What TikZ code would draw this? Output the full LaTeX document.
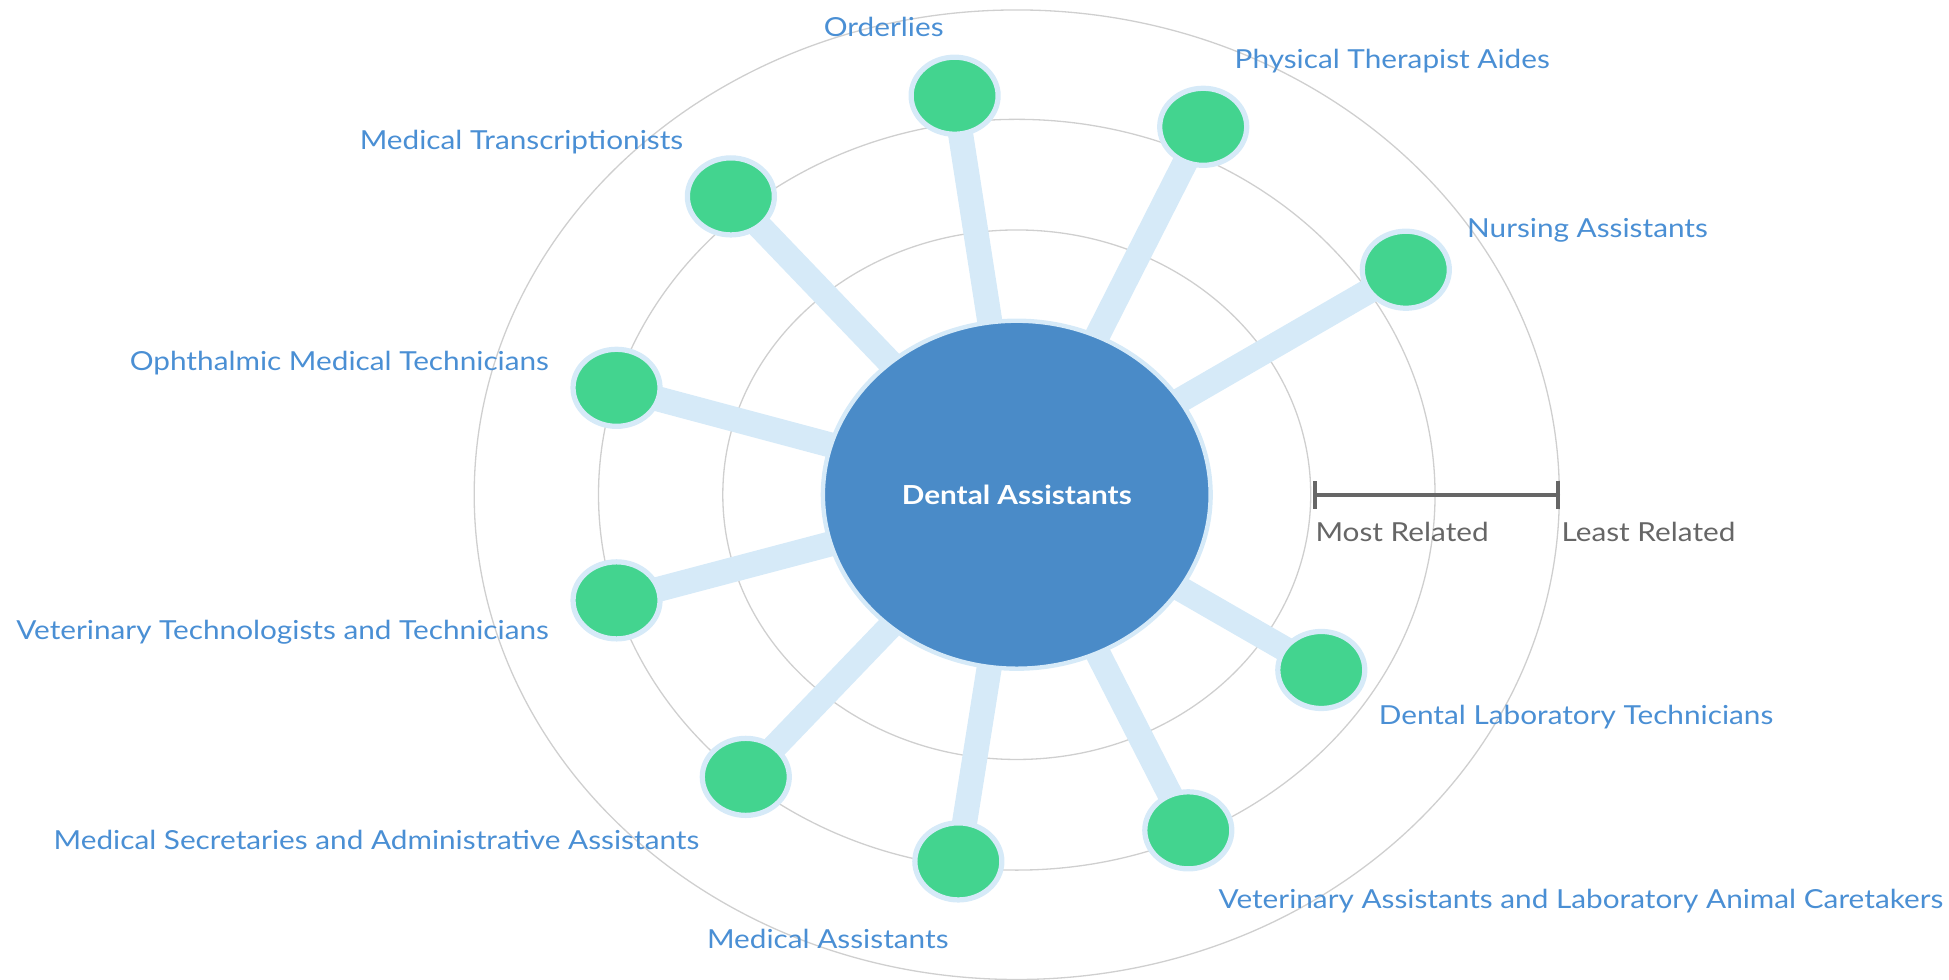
\documentclass[tikz,border=0pt]{standalone}
\usepackage{fontspec}
\setmainfont{Lato}[FakeStretch=1.135]
\usepackage{tikz}
\usetikzlibrary{shapes}
\usetikzlibrary{arrows.meta}
\usetikzlibrary{backgrounds}
\definecolor{ringgray}{HTML}{CFCFCF}
\definecolor{spokeblue}{HTML}{D6EAF8}
\definecolor{jobgreen}{HTML}{43D48F}
\definecolor{hubblue}{HTML}{4A8BC8}
\definecolor{labelblue}{HTML}{4A8FD4}
\definecolor{bargray}{HTML}{666666}
\tikzset{
	hub node/.style={ellipse,fill=hubblue,draw=spokeblue,line width=2pt,
		minimum width=6.24cm,minimum height=5.6cm,text=white,font=\fontsize{12}{14}\selectfont\bfseries},
	job node/.style={ellipse,fill=jobgreen,draw=spokeblue,line width=2.4pt,
		minimum width=1.4cm,minimum height=1.24cm},
	job label/.style={text=labelblue,inner sep=0pt,yshift=-0.04cm,font=\fontsize{12}{14}\selectfont},
	spoke/.style={spokeblue,line width=11.5pt},
	ring/.style={ringgray,line width=0.6pt},
	scale text/.style={text=bargray,inner sep=0pt,font=\fontsize{12}{14}\selectfont}
}

\begin{document}
\begin{tikzpicture}[x=0.02cm,y=-0.02cm]
	\useasboundingbox (0,0) rectangle (1568,788);
	% hub and related jobs
	\node [hub node] (hub) at (818,398) {Dental Assistants};
	\node [job node] (1) at (768,77) {};
	\node [job node] (2) at (968,102) {};
	\node [job node] (3) at (1131,217) {};
	\node [job node] (4) at (1063,539) {};
	\node [job node] (5) at (956,668) {};
	\node [job node] (6) at (771,693) {};
	\node [job node] (7) at (600,625) {};
	\node [job node] (8) at (496,483) {};
	\node [job node] (9) at (496,312) {};
	\node [job node] (10) at (588,158) {};
	% labels
	\node [job label] (l1) at (711,20) {Orderlies};
	\node [job label,anchor=west] (l2) at (993,47) {Physical Therapist Aides};
	\node [job label,anchor=west] (l3) at (1180,183) {Nursing Assistants};
	\node [job label,anchor=west] (l4) at (1109,575) {Dental Laboratory Technicians};
	\node [job label,anchor=west] (l5) at (980,723) {Veterinary Assistants and Laboratory Animal Caretakers};
	\node [job label] (l6) at (666,753) {Medical Assistants};
	\node [job label,anchor=east] (l7) at (563,674) {Medical Secretaries and Administrative Assistants};
	\node [job label,anchor=east] (l8) at (442,507) {Veterinary Technologists and Technicians};
	\node [job label,anchor=east] (l9) at (442,290) {Ophthalmic Medical Technicians};
	\node [job label,anchor=east] (l10) at (550,112) {Medical Transcriptionists};
	% scale
	\coordinate (most) at (1056,398);
	\coordinate (least) at (1255,398);
	\draw [bargray,line width=1.8pt,{Bar[width=13pt]}-{Bar[width=13pt]}] (most) -- (least);
	\node [scale text,anchor=west] (mostl) at (1058,428) {Most Related};
	\node [scale text,anchor=west] (leastl) at (1256,428) {Least Related};
	\begin{scope}[on background layer]
		\draw [ring] (hub.center) ellipse [x radius=236.5,y radius=213];
		\draw [ring] (hub.center) ellipse [x radius=336.5,y radius=302];
		\draw [ring] (hub.center) ellipse [x radius=436.5,y radius=390];
		\foreach \n in {1,...,10}
			\draw [spoke] (hub.center) -- (\n.center);
	\end{scope}
\end{tikzpicture}
\end{document}
